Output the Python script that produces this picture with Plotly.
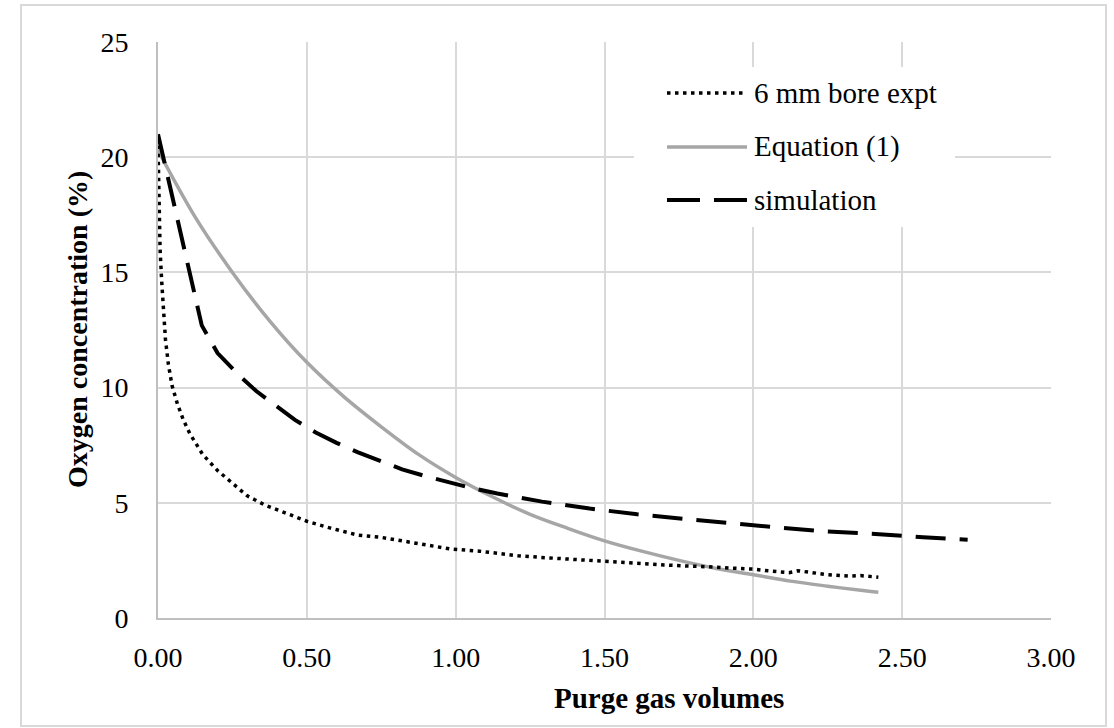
import plotly.graph_objects as go

# ---- data ----
expt_x = [0.0, 0.003, 0.007, 0.012, 0.018, 0.025, 0.035, 0.047, 0.065, 0.085, 0.107, 0.15, 0.2, 0.24,
          0.3, 0.36, 0.42, 0.5, 0.58, 0.67, 0.75, 0.84, 0.92, 0.98, 1.08, 1.14, 1.21, 1.3, 1.4,
          1.49, 1.6, 1.7, 1.75, 1.85, 1.95, 2.0, 2.05, 2.1, 2.12, 2.15, 2.2, 2.25, 2.32, 2.36, 2.42]
expt_y = [20.5, 18.0, 16.0, 14.7, 13.2, 12.1, 11.0, 10.1, 9.3, 8.6, 8.0, 7.1, 6.4, 5.95,
          5.3, 4.9, 4.6, 4.2, 3.9, 3.6, 3.5, 3.3, 3.15, 3.0, 2.9, 2.8, 2.7, 2.62, 2.55,
          2.46, 2.38, 2.3, 2.28, 2.22, 2.15, 2.12, 2.05, 2.0, 1.97, 2.05, 1.95, 1.88, 1.82, 1.84, 1.77]

eq_x = [0.0, 0.125, 0.25, 0.375, 0.5, 0.625, 0.75, 0.875, 1.0, 1.125, 1.25, 1.375, 1.5, 1.625,
        1.75, 1.875, 2.0, 2.125, 2.25, 2.375, 2.42]
eq_y = [20.3, 17.4, 15.0, 12.9, 11.1, 9.6, 8.3, 7.1, 6.1, 5.25, 4.5, 3.9, 3.35, 2.9,
        2.5, 2.15, 1.88, 1.6, 1.38, 1.18, 1.12]

sim_x = [0.0, 0.147, 0.2, 0.275, 0.33, 0.39, 0.46, 0.53, 0.6, 0.67, 0.75, 0.82, 0.9, 0.97,
         1.05, 1.14, 1.29, 1.45, 1.61, 1.77, 1.93, 2.09, 2.25, 2.41, 2.57, 2.72]
sim_y = [21.0, 12.7, 11.5, 10.5, 9.85, 9.25, 8.6, 8.05, 7.6, 7.2, 6.8, 6.45, 6.15, 5.9,
         5.65, 5.4, 5.05, 4.75, 4.5, 4.3, 4.1, 3.92, 3.75, 3.65, 3.5, 3.4]

series_names = ["6 mm bore expt", "Equation (1)", "simulation"]
x_title = "Purge gas volumes"
y_title = "Oxygen concentration (%)"

FONT = "Liberation Serif"
GRID = "#d9d9d9"
TXT = 29
TICK = 28

fig = go.Figure()
fig.add_trace(go.Scatter(x=eq_x, y=eq_y, mode="lines", name=series_names[1],
                         line=dict(color="#a6a6a6", width=3.5, shape="spline"), showlegend=False))
fig.add_trace(go.Scatter(x=sim_x, y=sim_y, mode="lines", name=series_names[2],
                         line=dict(color="black", width=4, dash="30px,14px"), showlegend=False))
fig.add_trace(go.Scatter(x=expt_x, y=expt_y, mode="lines", name=series_names[0],
                         line=dict(color="black", width=3.5, dash="3.5px,4.5px"), showlegend=False))

L, R, T, B = 158, 1051, 42, 618
W, H = R - L, B - T


def px(xp):
    return (xp - L) / W


def py(yp):
    return (B - yp) / H


shapes = [
    # outer chart border
    dict(type="rect", xref="paper", yref="paper", x0=px(21), x1=px(1106), y0=py(726), y1=py(5),
         line=dict(color=GRID, width=2), fillcolor="rgba(0,0,0,0)", layer="below"),
    # legend box
    dict(type="rect", xref="paper", yref="paper", x0=px(634), x1=px(955), y0=py(227), y1=py(67),
         line=dict(width=0), fillcolor="white", layer="above"),
]
leg_y = [93, 147, 200]
leg_styles = [dict(color="black", width=3.5, dash="3.5px,4.5px"),
              dict(color="#a6a6a6", width=3.5),
              dict(color="black", width=4, dash="33px,14px")]
annotations = []
for name, yy, st in zip(series_names, leg_y, leg_styles):
    shapes.append(dict(type="line", xref="paper", yref="paper", x0=px(667), x1=px(747),
                       y0=py(yy), y1=py(yy), line=st, layer="above"))
    annotations.append(dict(xref="paper", yref="paper", x=px(752), y=py(yy), text=name,
                            showarrow=False, xanchor="left", yanchor="middle",
                            font=dict(family=FONT, size=TXT, color="black")))

annotations.append(dict(xref="paper", yref="paper", x=px(669), y=py(698), text="<b>%s</b>" % x_title,
                        showarrow=False, xanchor="center", yanchor="middle",
                        font=dict(family=FONT, size=TXT, color="black")))
annotations.append(dict(xref="paper", yref="paper", x=px(77), y=0.5, text="<b>%s</b>" % y_title,
                        showarrow=False, xanchor="center", yanchor="middle", textangle=-90,
                        font=dict(family=FONT, size=TXT - 1, color="black")))

fig.update_layout(
    width=1114, height=728,
    margin=dict(l=L, r=1114 - R, t=T, b=728 - B),
    paper_bgcolor="white", plot_bgcolor="white",
    font=dict(family=FONT, size=TICK, color="black"),
    showlegend=False,
    shapes=shapes, annotations=annotations,
)
fig.update_xaxes(range=[0, 3], dtick=0.5, tick0=0, tickformat=".2f", showgrid=True,
                 gridcolor=GRID, gridwidth=2, showline=True, linecolor="#bfbfbf", linewidth=2,
                 zeroline=False, ticks="", ticklabelstandoff=13,
                 tickfont=dict(family=FONT, size=TICK, color="black"))
fig.update_yaxes(range=[0, 25], dtick=5, tick0=0, showgrid=True,
                 gridcolor=GRID, gridwidth=2, showline=True, linecolor="#bfbfbf", linewidth=2,
                 zeroline=False, ticks="", ticklabelstandoff=22,
                 tickfont=dict(family=FONT, size=TICK, color="black"))

fig.write_html("out.html")
